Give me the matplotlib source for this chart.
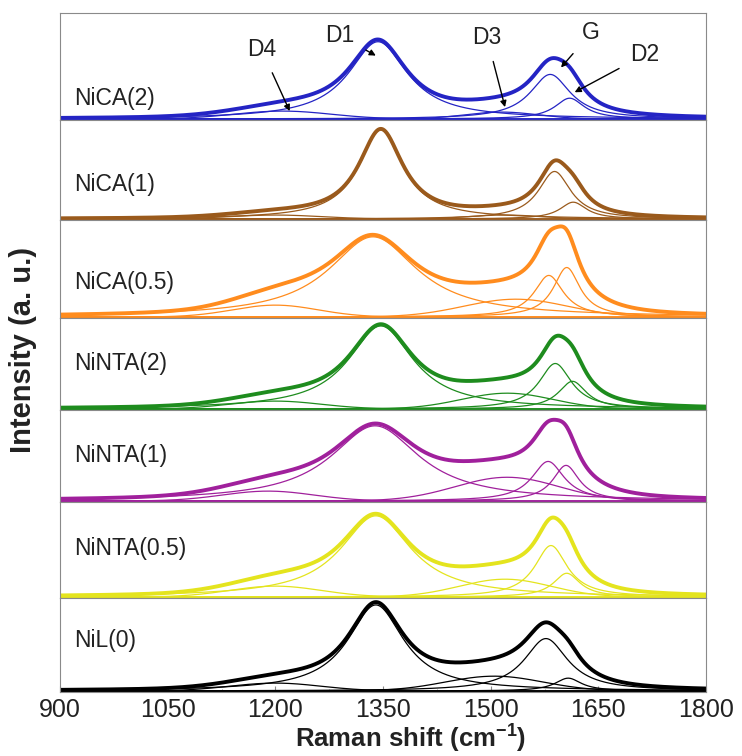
import numpy as np
import matplotlib
matplotlib.use("Agg")
import matplotlib.pyplot as plt

plt.rcParams['font.family'] = ['Liberation Sans', 'DejaVu Sans']
plt.rcParams['mathtext.fontset'] = 'custom'
plt.rcParams['mathtext.rm'] = 'Liberation Sans'
plt.rcParams['mathtext.bf'] = 'Liberation Sans:bold'

# ---- data (top panel to bottom panel) ----
samples = ["NiCA(2)", "NiCA(1)", "NiCA(0.5)", "NiNTA(2)", "NiNTA(1)", "NiNTA(0.5)", "NiL(0)"]
colors = ["#2424c4", "#9a5a1c", "#ff8c1e", "#1e8c1e", "#a0209c", "#e4e41e", "#000000"]
panel_top = [107, 100, 98, 92, 92, 96, 94]
label_pos = [0.20, 0.35, 0.36, 0.51, 0.51, 0.52, 0.55]

# peak centers (cm-1), heights (a.u.), FWHM (cm-1)
d1_center = [1343, 1347, 1336, 1347, 1339, 1340, 1340]
d1_height = [78, 90, 81, 84, 76, 82, 87]
d1_fwhm = [100, 75, 150, 110, 150, 120, 95]

g_center = [1583, 1589, 1581, 1590, 1580, 1584, 1577]
g_height = [45, 48, 42, 46, 40, 52, 53]
g_fwhm = [68, 55, 50, 55, 55, 55, 74]

d2_center = [1610, 1615, 1606, 1614, 1605, 1606, 1608]
d2_height = [21, 17, 50, 28, 36, 24, 13]
d2_fwhm = [50, 45, 45, 48, 45, 45, 45]

d3_center = [1515, 1520, 1535, 1523, 1523, 1520, 1505]
d3_height = [7, 4, 18, 16, 24, 18, 15]
d3_fwhm = [120, 120, 170, 150, 170, 150, 160]

d4_center = [1210, 1200, 1200, 1200, 1190, 1200, 1200]
d4_height = [8, 4, 12, 8, 10, 11, 8]
d4_fwhm = [160, 150, 140, 150, 150, 150, 150]

x_ticks = [900, 1050, 1200, 1350, 1500, 1650, 1800]

# annotations on top panel: (label, text x, text y, arrow x, arrow y)
ann_labels = ["D4", "D1", "D3", "G", "D2"]
ann_text_x = [1181, 1290, 1495, 1640, 1715]
ann_text_y = [70, 84, 82, 87, 65]
ann_tip_x = [1220, 1340, 1520, 1598, 1617]
ann_tip_y = [8, 64, 12, 52, 27]


def lorentz(x, c, h, w):
    return h / (1.0 + ((x - c) / (w / 2.0)) ** 2)


def gauss(x, c, h, w):
    return h * np.exp(-4 * np.log(2) * ((x - c) / w) ** 2)


x = np.linspace(900, 1800, 1500)

fig = plt.figure(figsize=(7.42, 7.56), dpi=100)
gs = fig.add_gridspec(len(samples), 1, height_ratios=panel_top, hspace=0,
                      left=60 / 742, right=706 / 742, top=1 - 13 / 756, bottom=1 - 692 / 756)
axes = [fig.add_subplot(gs[i, 0]) for i in range(len(samples))]

for i, ax in enumerate(axes):
    col = colors[i]
    comps = [
        gauss(x, d4_center[i], d4_height[i], d4_fwhm[i]),
        lorentz(x, d1_center[i], d1_height[i], d1_fwhm[i]),
        gauss(x, d3_center[i], d3_height[i], d3_fwhm[i]),
        lorentz(x, g_center[i], g_height[i], g_fwhm[i]),
        lorentz(x, d2_center[i], d2_height[i], d2_fwhm[i]),
    ]
    total = np.sum(comps, axis=0)
    for c in comps:
        ax.plot(x, c, color=col, lw=0.9)
    ax.plot(x, total, color=col, lw=2.8)
    ax.plot(x, total, color=col, lw=0.9)
    ax.axhline(0, color=col, lw=2.0)
    ax.set_xlim(900, 1800)
    ax.set_ylim(-1, panel_top[i])
    ax.set_yticks([])
    for s in ax.spines.values():
        s.set_color("#8a8a8a")
        s.set_linewidth(0.8)
    ax.text(0.022, label_pos[i], samples[i], transform=ax.transAxes,
            fontsize=16.5, va="center", ha="left", color="#222222")
    ax.set_xticks(x_ticks)
    ax.set_xticks(np.arange(975, 1800, 150), minor=True)
    if i < len(samples) - 1:
        ax.tick_params(axis="x", which="both", bottom=False, labelbottom=False)
    else:
        ax.tick_params(axis="x", which="major", direction="in", length=4,
                       color="#8a8a8a", labelsize=18, pad=4, labelcolor="#222222")
        ax.tick_params(axis="x", which="minor", direction="in", length=2,
                       color="#8a8a8a")

top = axes[0]
for lab, tx, ty, ax_, ay in zip(ann_labels, ann_text_x, ann_text_y, ann_tip_x, ann_tip_y):
    top.annotate(lab, xy=(ax_, ay), xytext=(tx, ty), fontsize=16.5, ha="center",
                 va="center", color="#222222",
                 arrowprops=dict(arrowstyle="-|>", color="black", lw=1.0,
                                 mutation_scale=9, shrinkA=7, shrinkB=0))

fig.text(411 / 742, 2 / 756, r"Raman shift (cm$^{\mathbf{-1}}$)", fontsize=18.5,
         fontweight="bold", ha="center", va="bottom", color="#222222")
fig.text(23 / 742, 1 - 350 / 756, "Intensity (a. u.)", rotation=90, fontsize=21,
         fontweight="bold", ha="center", va="center", color="#222222")

fig.savefig("out.png", dpi=100)
